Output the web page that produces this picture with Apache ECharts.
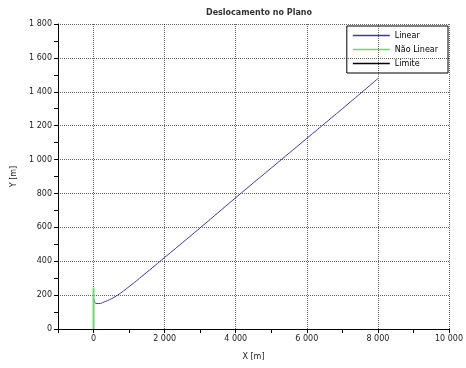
<!DOCTYPE html>
<html><head><meta charset="utf-8">
<script src="https://cdn.jsdelivr.net/npm/echarts@6/dist/echarts.min.js"></script>
<style>html,body{margin:0;padding:0;background:#fff}#c{width:466px;height:368px}</style>
</head><body><div id="c"></div>
<script>
const title = 'Deslocamento no Plano';
const seriesNames = ['Linear', 'Não Linear', 'Limite'];
const seriesColors = ['#3a3aa8', '#66dd66', '#000000'];
const linearX = [0, 20, 60, 140, 300, 600, 1000, 1500, 2000, 3000, 4000, 5000, 6000, 7000, 8000];
const linearY = [185, 165, 152, 150, 160, 190, 250, 335, 422, 597, 775, 950, 1125, 1300, 1478];
const naoLinearX = [0, 0];
const naoLinearY = [0, 245];
const limiteX = [];
const limiteY = [];
const xTicks = [-1000, 10000, 2000];
const yTicks = [0, 1800, 200];

function zip(a, b) { return a.map((v, i) => [v, b[i]]); }
function fmt(v) { return String(v).replace(/\B(?=(\d{3})+(?!\d))/g, ' '); }

const chart = echarts.init(document.getElementById('c'));
const font = 'DejaVu Sans';
const lineIcon = 'rect';
chart.setOption({
  animation: false,
  title: { text: title, left: 254, textAlign: 'center', top: 4,
    textStyle: { fontSize: 8, fontWeight: 'bold', color: '#333', fontFamily: font } },
  grid: { left: 58, right: 15, top: 24, bottom: 39 },
  legend: {
    right: 18, top: 26, orient: 'vertical', itemGap: 3, itemWidth: 37, itemHeight: 1.5,
    borderColor: '#000', borderWidth: 1, padding: [4, 10, 4, 6], backgroundColor: '#fff',
    textStyle: { fontSize: 8, color: '#000', fontFamily: font, lineHeight: 11 },
    data: seriesNames.map((n, i) => ({ name: n, icon: lineIcon,
      itemStyle: { color: seriesColors[i], borderWidth: 0 } }))
  },
  xAxis: {
    type: 'value', min: xTicks[0], max: xTicks[1], interval: 1000,
    name: 'X [m]', nameLocation: 'middle', nameGap: 24,
    nameTextStyle: { fontSize: 8, color: '#222', fontFamily: font },
    axisLine: { onZero: false, lineStyle: { color: '#000' } },
    axisTick: { show: true, length: 4, lineStyle: { color: '#000' } },
    axisLabel: { fontSize: 8, color: '#222', fontFamily: font, margin: 6,
      formatter: v => (v % xTicks[2] === 0 && v >= 0) ? fmt(v) : '' },
    splitLine: { show: false }
  },
  yAxis: {
    type: 'value', min: yTicks[0], max: yTicks[1], interval: 100,
    name: 'Y [m]', nameLocation: 'middle', nameGap: 34, nameRotate: 90,
    nameTextStyle: { fontSize: 8, color: '#222', fontFamily: font },
    axisLine: { show: true, onZero: false, lineStyle: { color: '#000' } },
    axisTick: { show: true, length: 4, lineStyle: { color: '#000' } },
    axisLabel: { fontSize: 8, color: '#222', fontFamily: font, margin: 6,
      formatter: v => (v % yTicks[2] === 0) ? fmt(v) : '' },
    splitLine: { show: false }
  },
  series: [
    { type: 'line', data: [], silent: true,
      markLine: { silent: true, symbol: 'none', label: { show: false },
        lineStyle: { color: '#000', type: [1, 1], width: 0.6 },
        data: [0, 2000, 4000, 6000, 8000, 10000].map(x => ({ xAxis: x }))
          .concat([200, 400, 600, 800, 1000, 1200, 1400, 1600, 1800].map(y => ({ yAxis: y }))) } },
    { name: seriesNames[0], type: 'line', data: zip(linearX, linearY), symbol: 'none', smooth: true, z: 5,
      lineStyle: { color: seriesColors[0], width: 1 }, itemStyle: { color: seriesColors[0] } },
    { name: seriesNames[1], type: 'line', data: zip(naoLinearX, naoLinearY), symbol: 'none', z: 5,
      lineStyle: { color: seriesColors[1], width: 2 }, itemStyle: { color: seriesColors[1] } },
    { name: seriesNames[2], type: 'line', data: zip(limiteX, limiteY), symbol: 'none', z: 5,
      lineStyle: { color: seriesColors[2], width: 1 }, itemStyle: { color: seriesColors[2] } }
  ]
});
</script></body></html>
